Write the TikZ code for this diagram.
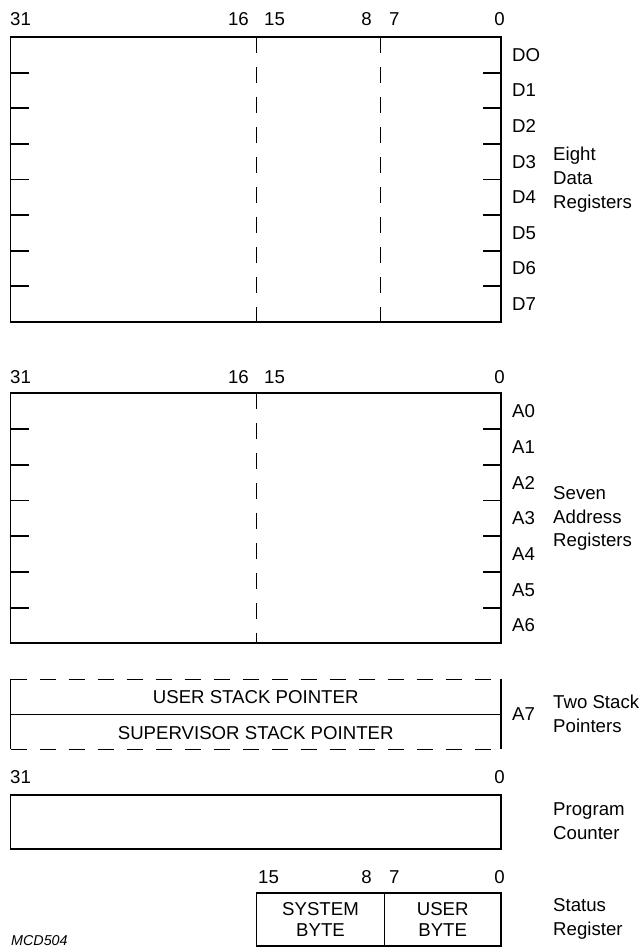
\documentclass[tikz,border=0pt]{standalone}
\usepackage{fontspec}
\setmainfont{Liberation Sans}
\begin{document}
\begin{tikzpicture}[x=0.03cm,y=-0.03cm,
    txt/.style={inner sep=0pt,font=\fontsize{15.9pt}{20.4pt}\selectfont},
    bytetxt/.style={txt,align=center,font=\fontsize{15.9pt}{17.9pt}\selectfont},
    grouptxt/.style={txt,anchor=west,align=left},
    boxline/.style={line width=1.6pt},
    thinline/.style={line width=0.9pt},
    divline/.style={line width=1.1pt,dash pattern=on 0.48cm off 0.42cm},
    spline/.style={line width=1.3pt,dash pattern=on 0.5cm off 0.37cm}]
    \useasboundingbox (0,0) rectangle (638,947);

    % Data registers
    \node [txt,anchor=west] (d31) at (10,19.3) {31};
    \node [txt,anchor=east] (d16) at (249,19.3) {16};
    \node [txt,anchor=west] (d15) at (264,19.3) {15};
    \node [txt,anchor=east] (d8) at (372,19.3) {8};
    \node [txt,anchor=west] (d7) at (389,19.3) {7};
    \node [txt,anchor=east] (d0) at (505,19.3) {0};
    \draw [boxline] (10.5,37) rectangle (501,322);%
    \draw [divline] (256.5,37) -- (256.5,322);%
    \draw [divline] (380.5,37) -- (380.5,322);%
    \foreach \k in {1,...,7} {
        \draw [boxline] (10.5,37+35.625*\k) -- +(18,0);%
        \draw [boxline] (501,37+35.625*\k) -- +(-18,0);%
    }
    \foreach \k/\lbl in {0/DO,1/D1,2/D2,3/D3,4/D4,5/D5,6/D6,7/D7}
        \node [txt,anchor=west] (dreg\k) at (512,54.8+35.625*\k) {\lbl};
    \node [grouptxt] (datagrp) at (553,180) {Eight\\Data\\Registers};

    % Address registers
    \node [txt,anchor=west] (a31) at (10,377.3) {31};
    \node [txt,anchor=east] (a16) at (249,377.3) {16};
    \node [txt,anchor=west] (a15) at (264,377.3) {15};
    \node [txt,anchor=east] (a0) at (505,377.3) {0};
    \draw [boxline] (10.5,393.3) rectangle (501,643.3);%
    \draw [divline] (256.5,393.3) -- (256.5,643.3);%
    \foreach \k in {1,...,6} {
        \draw [boxline] (10.5,393.3+35.714*\k) -- +(18,0);%
        \draw [boxline] (501,393.3+35.714*\k) -- +(-18,0);%
    }
    \foreach \k in {0,...,6}
        \node [txt,anchor=west] (areg\k) at (512,411.2+35.714*\k) {A\k};
    \node [grouptxt] (addrgrp) at (553,518.5) {Seven\\Address\\Registers};

    % Stack pointers
    \draw [spline] (10.5,679.3) -- (501,679.3);%
    \draw [spline] (10.5,749.3) -- (501,749.3);%
    \draw [boxline] (10.5,679.3) -- (10.5,749.3);%
    \draw [boxline] (501,679.3) -- (501,749.3);%
    \draw [thinline] (10.5,714.3) -- (501,714.3);%
    \node [txt] (usp) at (255.7,697.3) {USER STACK POINTER};
    \node [txt] (ssp) at (255.7,732.8) {SUPERVISOR STACK POINTER};
    \node [txt,anchor=west] (a7) at (512,714) {A7};
    \node [grouptxt] (spgrp) at (553,714) {Two Stack\\Pointers};

    % Program counter
    \node [txt,anchor=west] (p31) at (10,777.3) {31};
    \node [txt,anchor=east] (p0) at (505,777.3) {0};
    \draw [boxline] (10.5,795) rectangle (501,848.7);%
    \node [grouptxt] (pcgrp) at (553,821.5) {Program\\Counter};

    % Status register
    \node [txt,anchor=west] (s15) at (258,877.3) {15};
    \node [txt,anchor=east] (s8) at (372,877.3) {8};
    \node [txt,anchor=west] (s7) at (389,877.3) {7};
    \node [txt,anchor=east] (s0) at (505,877.3) {0};
    \draw [boxline] (256.5,893.3) rectangle (501,945.7);%
    \draw [thinline] (384.4,893.3) -- (384.4,945.7);%
    \node [bytetxt] (sysbyte) at (320.5,919.7) {SYSTEM\\BYTE};
    \node [bytetxt] (userbyte) at (442.7,919.7) {USER\\BYTE};
    \node [grouptxt] (srgrp) at (553,919.2) {Status\\Register};

    \node [inner sep=0pt,anchor=west,font=\fontsize{12.2pt}{14pt}\selectfont\itshape] (figid) at (11,941) {MCD504};
\end{tikzpicture}
\end{document}
